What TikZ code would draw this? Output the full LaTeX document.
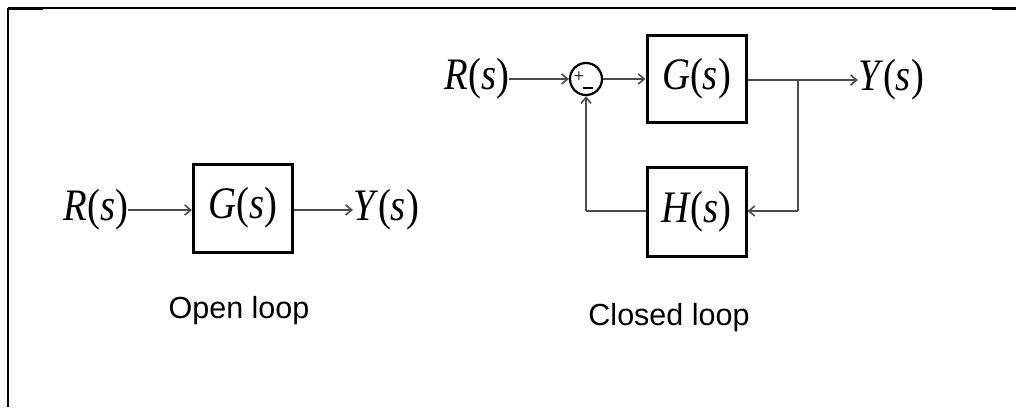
\documentclass[tikz,border=0pt]{standalone}
\usepackage{fontspec}
\setmainfont{Liberation Serif}
\newfontfamily\captionfont{Liberation Sans}
\usetikzlibrary{arrows.meta}
\tikzset{
  sig/.style={font=\fontsize{45}{45}\selectfont, inner sep=0pt},
  block/.style={draw=black, line width=3pt, minimum width=99pt, minimum height=88pt, inner sep=0pt, font=\fontsize{45}{45}\selectfont},
  sumpt/.style={draw=black, line width=2.2pt, circle, minimum size=32pt, inner sep=0pt},
  wire/.style={draw=black!70, line width=1.8pt},
  flow/.style={wire, -{Straight Barb[length=6pt,width=10pt,line width=1.6pt]}},
  caption/.style={font=\captionfont\fontsize{30.5}{30.5}\selectfont, inner sep=0pt, anchor=base},
  sign/.style={font=\fontsize{19}{19}\selectfont, inner sep=0pt},
  frameline/.style={draw=black, line width=1.5pt}
}
% transfer-function label, set slightly condensed
\newcommand{\tf}[1]{\scalebox{0.86}[1]{\textit{#1}(\textit{s})}}
\begin{document}
\begin{tikzpicture}[x=1pt, y=-1pt]
  \useasboundingbox (0,0) rectangle (1016,407);

  % page frame
  \draw[frameline] (8,8) -- (1016,8);
  \draw[draw=black, line width=2.6pt] (8,8) -- (8,407);
  \draw[draw=black, line width=2.6pt] (8,9) -- (43,9);
  \draw[draw=black, line width=2.6pt] (992,9) -- (1016,9);

  % open loop
  \node[sig] (R1) at (96,210) {\tf{R}};
  \node[block] (G1) at (243,208) {\tf{G}};
  \node[sig] (Y1) at (386,210) {\tf{Y}};
  \draw[flow] (R1.east) -- (R1.east -| G1.west);
  \draw[flow] (Y1.west -| G1.east) -- (Y1.west);
  \node[caption] (cap1) at (239,318) {Open loop};

  % closed loop
  \node[sig] (R2) at (477,79) {\tf{R}};
  \node[sumpt] (S) at (586,79) {};
  \node[sign] (plus) at (579,77) {+};
  \coordinate (m1) at (583,88);
  \coordinate (m2) at (593,88);
  \draw[draw=black, line width=2pt] (m1) -- (m2);
  \node[block, minimum height=87pt] (G2) at (696.5,78.5) {\tf{G}};
  \node[sig] (Y2) at (891,80) {\tf{Y}};
  \node[block, minimum height=89pt] (H) at (696.5,211.5) {\tf{H}};
  \coordinate (b) at (798,80);
  \coordinate (bd) at (798,211);
  \coordinate (c) at (586,211);

  \draw[flow] (R2.east |- S.west) -- (S.west);
  \draw[flow] (S.east) -- (S.east -| G2.west);
  \draw[flow] (G2.east |- Y2.west) -- (Y2.west);
  \draw[wire] (b) -- (bd);
  \draw[flow] (bd) -- (bd -| H.east);
  \draw[wire] (c -| H.west) -- (c);
  \draw[flow] (c) -- (S.south);
  \node[caption] (cap2) at (669,325) {Closed loop};
\end{tikzpicture}
\end{document}
